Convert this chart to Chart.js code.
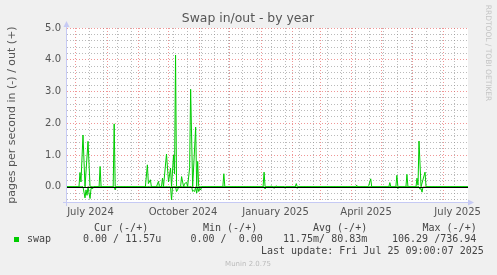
<!DOCTYPE html>
<html>
<head>
<meta charset="utf-8">
<script src="https://cdn.jsdelivr.net/npm/chart.js@4.4.1/dist/chart.umd.min.js"></script>
<style>
  html, body { margin: 0; padding: 0; background: #f0f0f0; }
  #wrap { width: 497px; height: 275px; }
</style>
</head>
<body>
<div id="wrap"><canvas id="swapChart" width="497" height="275"></canvas></div>
<script>
// x values are days since 1 July 2024
const outDays = [-9, 3, 4, 5, 7, 9, 12, 14, 23, 24, 25, 37, 38, 39, 69, 71, 72, 74, 75, 80, 82, 83, 85, 86, 87, 90, 92, 94, 95, 97, 98, 99, 100, 104, 105, 107, 108, 110, 111, 113, 114, 116, 119, 120, 121, 122, 146, 147, 148, 186, 187, 188, 193, 194, 195, 198, 199, 200, 218, 219, 220, 278, 279, 280, 290, 291, 293, 294, 311, 312, 313, 318, 319, 320, 328, 329, 330, 338, 339, 340, 341, 343, 347, 348, 390];
const outVals = [0, 0, 0.45, 0.15, 1.63, 0, 1.43, 0, 0, 0.64, 0, 0, 1.98, 0, 0, 0.69, 0.1, 0.22, 0, 0, 0.17, 0, 0, 0.27, 0, 1.03, 0.15, 0.59, 0, 1.0, 0.4, 4.15, 0, 0, 0.32, 0, 0.1, 0.14, 0, 0.6, 3.07, 0, 1.88, 0, 0.8, 0, 0, 0.41, 0, 0, 0.46, 0, 0, 0.03, 0, 0, 0.03, 0, 0, 0.1, 0, 0, 0.05, 0, 0, 0.04, 0.25, 0, 0, 0.13, 0, 0, 0.36, 0, 0, 0.39, 0, 0, 0.27, 0.05, 1.44, 0, 0.46, 0, 0];
const inDays = [-9, 7, 9, 10, 11, 12, 13, 14, 15, 17, 18, 38, 39, 40, 94, 95, 96, 99, 100, 101, 102, 115, 116, 117, 118, 119, 120, 121, 122, 123, 124, 125, 187, 188, 189, 196, 197, 198, 207, 208, 209, 219, 220, 221, 319, 320, 321, 341, 342, 343, 344, 345, 346, 348, 390];
const inVals = [0, 0, -0.35, -0.1, -0.27, 0, -0.2, -0.37, -0.05, -0.05, 0, 0, -0.1, 0, 0, -0.41, 0, 0, -0.15, -0.1, 0, 0, -0.15, -0.12, -0.15, 0, -0.2, 0, -0.15, -0.05, -0.1, 0, 0, -0.07, 0, 0, -0.05, 0, 0, -0.05, 0, 0, -0.05, 0, 0, -0.06, 0, 0, -0.08, -0.05, -0.17, 0, -0.03, 0, 0];

const monthDays = [0, 31, 62, 92, 123, 153, 184, 215, 243, 274, 304, 335, 365];
const minorDays = [13, 27, 41, 55, 69, 83, 97, 111, 125, 138, 152, 166, 180, 194, 208, 222, 236, 250, 264, 278, 292, 306, 320, 334, 348, 362, 376];
const monthLabels = { 0: 'July 2024', 92: 'October 2024', 184: 'January 2025', 274: 'April 2025', 365: 'July 2025' };

const legendHead = ['Cur (-/+)', 'Min (-/+)', 'Avg (-/+)', 'Max (-/+)'];
const legendVals = ['0.00 / 11.57u', '0.00 /  0.00', '11.75m/ 80.83m', '106.29 /736.94'];

const toPoints = (xs, ys) => xs.map((x, i) => ({ x: x, y: ys[i] }));
const isWhole = (v) => Math.abs(v - Math.round(v)) < 1e-6;
const majorColor = 'rgba(230,80,80,0.6)';
const minorColor = 'rgba(140,140,140,0.6)';

const decorations = {
  id: 'decorations',
  beforeDraw(chart) {
    const { ctx, chartArea: a } = chart;
    ctx.save();
    ctx.fillStyle = '#f0f0f0';
    ctx.fillRect(0, 0, chart.width, chart.height);
    ctx.fillStyle = '#ffffff';
    ctx.fillRect(a.left, a.top, a.right - a.left, a.bottom - a.top);
    ctx.restore();
  },
  afterDatasetsDraw(chart) {
    const { ctx, chartArea: a } = chart;
    const y0 = Math.round(chart.scales.y.getPixelForValue(0)) + 0.5;
    ctx.save();
    ctx.strokeStyle = '#000';
    ctx.lineWidth = 1;
    ctx.beginPath();
    ctx.moveTo(a.left, y0);
    ctx.lineTo(a.right, y0);
    ctx.stroke();

    // axes with arrows
    ctx.strokeStyle = '#c6caf4';
    ctx.fillStyle = '#c6caf4';
    ctx.beginPath();
    ctx.moveTo(a.left - 0.5, a.bottom + 4);
    ctx.lineTo(a.left - 0.5, a.top - 3);
    ctx.moveTo(a.left - 4, a.bottom + 0.5);
    ctx.lineTo(a.right + 2, a.bottom + 0.5);
    ctx.stroke();
    ctx.beginPath();
    ctx.moveTo(a.left - 0.5, a.top - 7);
    ctx.lineTo(a.left - 3.5, a.top - 1);
    ctx.lineTo(a.left + 2.5, a.top - 1);
    ctx.fill();
    ctx.beginPath();
    ctx.moveTo(a.right + 6, a.bottom + 0.5);
    ctx.lineTo(a.right, a.bottom - 2.5);
    ctx.lineTo(a.right, a.bottom + 3.5);
    ctx.fill();
    ctx.restore();
  },
  afterDraw(chart) {
    const { ctx } = chart;
    ctx.save();
    ctx.textBaseline = 'middle';
    ctx.fillStyle = '#555';
    ctx.textAlign = 'center';
    ctx.font = '12.4px "DejaVu Sans"';
    ctx.fillText('Swap in/out - by year', 248, 19);

    ctx.save();
    ctx.translate(12, 115);
    ctx.rotate(-Math.PI / 2);
    ctx.font = '11px "DejaVu Sans"';
    ctx.fillText('pages per second in (-) / out (+)', 0, 0);
    ctx.restore();

    ctx.save();
    ctx.translate(488, 53);
    ctx.rotate(Math.PI / 2);
    ctx.fillStyle = '#c4c4c4';
    ctx.font = '7.5px "DejaVu Sans"';
    ctx.fillText('RRDTOOL / TOBI OETIKER', 0, 0);
    ctx.restore();

    ctx.fillStyle = '#bbb';
    ctx.font = '7px "DejaVu Sans"';
    ctx.fillText('Munin 2.0.75', 248, 264);

    ctx.textAlign = 'left';
    ctx.fillStyle = '#444';
    ctx.font = '10px "DejaVu Sans Mono"';
    const headX = [94, 203, 313, 422.5];
    const valX = [83, 190.5, 283, 392];
    legendHead.forEach((t, i) => ctx.fillText(t, headX[i], 228));
    legendVals.forEach((t, i) => ctx.fillText(t, valX[i], 239.5));
    ctx.fillText('swap', 27, 239.5);
    ctx.fillText('Last update: Fri Jul 25 09:00:07 2025', 261, 251.5);
    ctx.fillStyle = '#00cc00';
    ctx.fillRect(14, 237, 5, 5);
    ctx.restore();
  }
};

new Chart(document.getElementById('swapChart'), {
  type: 'line',
  data: {
    datasets: [
      { label: 'swap out', data: toPoints(outDays, outVals), borderColor: '#00cc00', borderWidth: 1, pointRadius: 0, tension: 0, fill: false },
      { label: 'swap in', data: toPoints(inDays, inVals), borderColor: '#00cc00', borderWidth: 1, pointRadius: 0, tension: 0, fill: false }
    ]
  },
  options: {
    responsive: false,
    animation: false,
    devicePixelRatio: 1,
    layout: { padding: { left: 0, right: 29, top: 28, bottom: 0 } },
    plugins: { legend: { display: false }, title: { display: false }, tooltip: { enabled: false } },
    scales: {
      x: {
        type: 'linear',
        min: -8.9,
        max: 389.7,
        afterBuildTicks: (s) => {
          s.ticks = monthDays.concat(minorDays).sort((p, q) => p - q).map(v => ({ value: v }));
        },
        afterFit: (s) => { s.height = 73; },
        grid: {
          drawTicks: false,
          color: (c) => monthDays.includes(c.tick.value) ? majorColor : minorColor
        },
        border: { display: false, dash: [1, 2] },
        ticks: {
          autoSkip: false,
          maxRotation: 0,
          minRotation: 0,
          padding: 4,
          labelOffset: 14.5,
          color: '#555',
          font: { family: 'DejaVu Sans', size: 10 },
          callback: (v) => monthLabels[v] || ''
        }
      },
      y: {
        min: -0.48,
        max: 5.0,
        afterBuildTicks: (s) => {
          const t = [];
          for (let i = -2; i <= 25; i++) t.push({ value: i / 5 });
          s.ticks = t;
        },
        afterFit: (s) => { s.width = 67; },
        grid: {
          drawTicks: false,
          color: (c) => isWhole(c.tick.value) ? majorColor : minorColor
        },
        border: { display: false, dash: [1, 2] },
        ticks: {
          autoSkip: false,
          padding: 6,
          color: '#555',
          font: { family: 'DejaVu Sans', size: 10 },
          callback: (v) => isWhole(v) ? v.toFixed(1) : ''
        }
      }
    }
  },
  plugins: [decorations]
});
</script>
</body>
</html>
